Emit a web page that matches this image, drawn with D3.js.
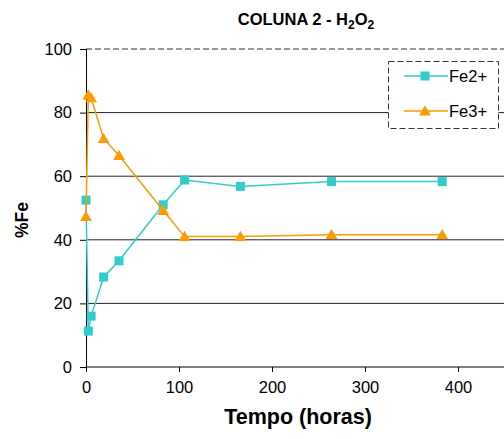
<!DOCTYPE html>
<html><head><meta charset="utf-8">
<script src="https://cdn.jsdelivr.net/npm/d3@7"></script>
<style>body{margin:0;background:#fff}svg{display:block}text{font-family:"Liberation Sans",Arial,sans-serif}</style>
</head><body><svg id="c" width="504" height="439"></svg>
<script>
const time = [0, 2.5, 5.5, 19, 35.5, 83, 106, 166, 264, 383];
const fe2 = [52.5, 11.3, 16, 28.3, 33.4, 51, 58.8, 56.8, 58.3, 58.3];
const fe3 = [47.3, 85.5, 84.6, 71.8, 66.5, 49.2, 41, 41, 41.6, 41.6];
const xTicks = [0, 100, 200, 300, 400];
const yTicks = [0, 20, 40, 60, 80, 100];
const seriesNames = ["Fe2+", "Fe3+"];
const colors = ["#33CCCC", "#FF9900"];

const svg = d3.select("#c");
const m = {l: 86, t: 49, b: 367, r: 504.5};
const x = d3.scaleLinear().domain([0, 450]).range([m.l, m.r]);
const y = d3.scaleLinear().domain([0, 100]).range([m.b, m.t]);

// title
const title = svg.append("text").attr("x", 306).attr("y", 25).attr("text-anchor", "middle")
  .attr("font-size", 16.5).attr("font-weight", "bold");
title.append("tspan").text("COLUNA 2 - H");
title.append("tspan").text("2").attr("font-size", 12).attr("dy", 4);
title.append("tspan").text("O").attr("dy", -4);
title.append("tspan").text("2").attr("font-size", 12).attr("dy", 4);

// gridlines
svg.append("g").selectAll("line").data(yTicks.filter(d => d > 0 && d < 100)).join("line")
  .attr("x1", m.l).attr("x2", 504).attr("y1", d => y(d)).attr("y2", d => y(d))
  .attr("stroke", "#222").attr("stroke-width", 1);
// top dashed border
svg.append("line").attr("x1", m.l).attr("x2", 504).attr("y1", y(100)).attr("y2", y(100))
  .attr("stroke", "#333").attr("stroke-dasharray", "6,3");

// axes
const xAxis = svg.append("g").attr("transform", `translate(0,${m.b})`)
  .call(d3.axisBottom(x).tickValues(xTicks).tickSize(5).tickPadding(9));
const yAxis = svg.append("g").attr("transform", `translate(${m.l},0)`)
  .call(d3.axisLeft(y).tickValues(yTicks).tickSize(6).tickPadding(8));
[xAxis, yAxis].forEach(g => {
  g.select(".domain").attr("stroke", "#000");
  g.selectAll(".tick line").attr("stroke", "#000");
  g.selectAll("text").attr("font-size", 16.5).attr("fill", "#000")
    .attr("font-family", "'Liberation Sans',Arial,sans-serif");
});
xAxis.select(".domain").attr("d", `M${m.l},0H504`);

// axis labels
svg.append("text").attr("x", 298).attr("y", 424).attr("text-anchor", "middle")
  .attr("font-size", 21.5).attr("font-weight", "bold").text("Tempo (horas)");
svg.append("text").attr("transform", `translate(28,220) rotate(-90)`)
  .attr("text-anchor", "middle").attr("font-size", 17.5).attr("font-weight", "bold").text("%Fe");

// series
const data = [fe2, fe3];
const sq = d3.symbol().type(d3.symbolSquare).size(81);
const tri = d3.symbol().type(d3.symbolTriangle).size(60);
data.forEach((vals, i) => {
  const pts = time.map((t, j) => [t, vals[j]]);
  svg.append("path").datum(pts)
    .attr("d", d3.line().x(d => x(d[0])).y(d => y(d[1])))
    .attr("fill", "none").attr("stroke", colors[i]).attr("stroke-width", 1.5);
  svg.append("g").selectAll("path").data(pts).join("path")
    .attr("d", i === 0 ? sq : tri)
    .attr("transform", d => `translate(${x(d[0])},${y(d[1]) + (i === 1 ? 1 : 0)})`)
    .attr("fill", colors[i]);
});

// legend
const lg = svg.append("g");
lg.append("rect").attr("x", 388.5).attr("y", 61.5).attr("width", 110).attr("height", 67)
  .attr("fill", "#fff").attr("stroke", "#333").attr("stroke-dasharray", "6,3");
seriesNames.forEach((n, i) => {
  const yy = 76 + i * 35;
  lg.append("line").attr("x1", 404).attr("x2", 448).attr("y1", yy).attr("y2", yy)
    .attr("stroke", colors[i]).attr("stroke-width", 1.5);
  lg.append("path").attr("d", i === 0 ? sq : tri)
    .attr("transform", `translate(425,${yy + (i === 1 ? 1 : 0)})`).attr("fill", colors[i]);
  lg.append("text").attr("x", 449).attr("y", yy + 6).attr("font-size", 16.5).text(n);
});
</script></body></html>
